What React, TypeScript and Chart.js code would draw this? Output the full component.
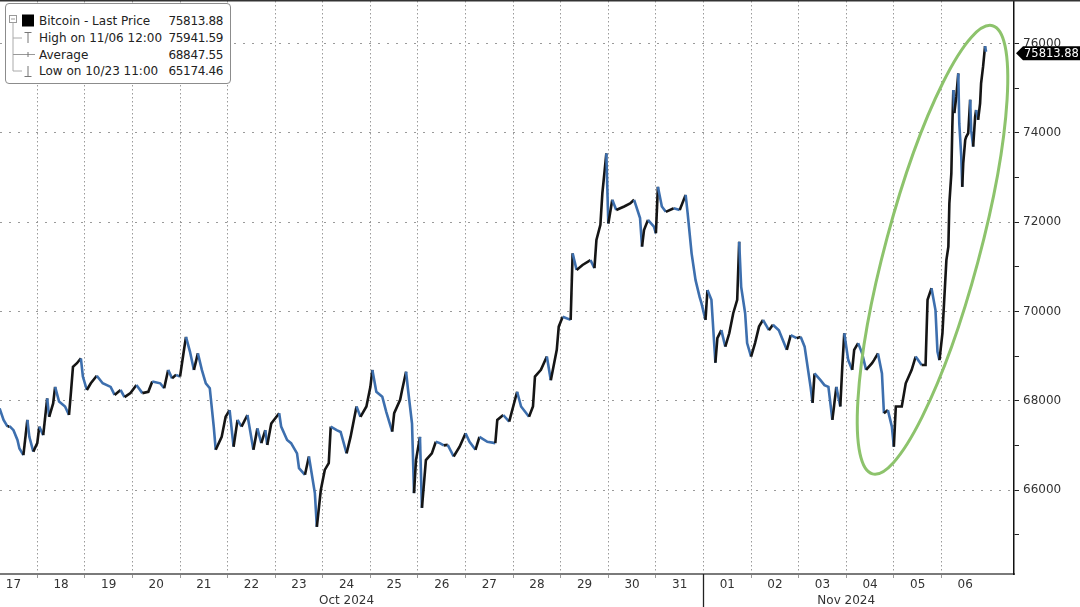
import React, { useEffect, useRef } from 'react';
import { Chart, registerables } from 'chart.js';

Chart.register(...registerables);

// Hours since 2024-10-17 00:00 (hourly bars sampled)
const hours: number[] = [
  5, 7, 9, 10, 12, 14, 15, 17, 19, 20,
  22, 24, 25, 27, 29, 30, 32, 33, 35, 38,
  40, 41, 42, 44, 46, 47, 49, 51, 54, 57,
  61, 63, 66, 68, 71, 74, 77, 80, 82, 86,
  88, 90, 92, 94, 96, 98, 99, 101, 103, 105,
  107, 109, 111, 113, 114, 117, 119, 121, 123, 125,
  127, 130, 131, 133, 135, 137, 139, 140, 142, 146,
  147, 150, 152, 155, 156, 159, 161, 164, 165, 167,
  169, 171, 172, 175, 177, 180, 182, 185, 187, 190,
  192, 193, 195, 198, 200, 203, 204, 207, 208, 210,
  211, 213, 214, 215, 217, 218, 220, 223, 225, 227,
  229, 231, 234, 237, 240, 242, 245, 247, 251, 255,
  256, 259, 262, 266, 268, 272, 274, 275, 278, 281,
  283, 286, 287, 289, 293, 294, 296, 299, 303, 305,
  306, 308, 309, 310, 311, 312, 314, 316, 320, 323,
  325, 328, 329, 330, 332, 335, 336, 337, 339, 341,
  345, 348, 351, 352, 354, 356, 358, 359, 361, 362,
  364, 366, 367, 369, 371, 373, 375, 377, 378, 379,
  381, 382, 384, 386, 388, 390, 393, 395, 398, 402,
  404, 407, 409, 411, 414, 415, 416, 419, 421, 423,
  425, 427, 429, 430, 431, 433, 435, 436, 438, 440,
  442, 445, 446, 448, 450, 451, 453, 455, 456, 457,
  460, 462, 465, 467, 470, 472, 473, 475, 477, 478,
  479, 480.5, 481.5, 482.5, 483.5, 484, 485, 485.5, 486, 486.5,
  487.5, 488.5, 489, 490, 490.5, 491, 492, 492.5, 493.5, 494.5,
  495, 496, 497, 497.5, 498.5, 499.5, 500, 501, 502, 502.5,
];

const prices: number[] = [
  67830, 67570, 67420, 67430, 67340, 67120, 66930, 66780, 67570, 67190,
  66860, 67050, 67420, 67230, 68050, 67640, 67940, 68310, 67980, 67870,
  67680, 68200, 68760, 68840, 68950, 68540, 68240, 68390, 68560, 68390,
  68310, 68130, 68240, 68080, 68170, 68350, 68170, 68200, 68430, 68390,
  68280, 68690, 68500, 68580, 68540, 69140, 69430, 69100, 68690, 69060,
  68690, 68390, 68280, 67420, 66900, 67190, 67640, 67790, 66970, 67570,
  67420, 67680, 67420, 66900, 67380, 67050, 67340, 67010, 67490, 67720,
  67420, 67120, 67050, 66820, 66490, 66340, 66750, 65930, 65174, 66000,
  66450, 66600, 67420, 67340, 67300, 66820, 67190, 67870, 67640, 67870,
  68310, 68690, 68200, 68090, 67750, 67310, 67720, 68020, 68240, 68650,
  68240, 67490, 65930, 66670, 67190, 65600, 66670, 66820, 67080, 67050,
  67000, 67010, 66750, 66970, 67270, 67080, 66900, 67190, 67080, 67050,
  67570, 67680, 67530, 68200, 67870, 67640, 67870, 68540, 68690, 68990,
  68460, 69140, 69660, 69880, 69810, 71300, 70930, 71040, 71150, 70970,
  71600, 71940, 72650, 73090, 73540, 71970, 72500, 72270, 72350, 72420,
  72500, 72090, 71450, 71820, 72050, 71900, 71750, 72790, 72350, 72230,
  72310, 72270, 72610, 72200, 71300, 70700, 70330, 70180, 69810, 70480,
  70260, 68850, 69400, 69580, 69210, 69510, 69960, 70260, 71560, 70550,
  69960, 69290, 68990, 69290, 69660, 69810, 69580, 69700, 69580, 69140,
  69470, 69400, 69430, 69210, 68310, 67950, 68610, 68460, 68350, 68310,
  67570, 68310, 67870, 68760, 69510, 68910, 68690, 69140, 69290, 69060,
  68690, 68840, 68910, 69060, 68610, 67720, 67790, 67420, 66970, 67870,
  67870, 68390, 68690, 68990, 68800, 68800, 70260, 70520, 70030, 69100,
  68910, 69510, 70330, 71150, 71450, 72420, 73090, 74140, 74960, 74440,
  74810, 75330, 74210, 73470, 72790, 73320, 73840, 73910, 73990, 74740,
  74060, 73690, 74360, 74510, 74290, 74660, 75110, 75480, 75942, 75813.88,
];

const dayLabels: string[] = [
  '17', '18', '19', '20', '21', '22', '23', '24', '25', '26', '27', '28', '29', '30', '31',
  '01', '02', '03', '04', '05', '06',
];
const dayCenterHours: number[] = dayLabels.map((_, i) => 12 + 24 * i);
const monthLabels: string[] = ['Oct 2024', 'Nov 2024'];
const monthLabelHours: number[] = [180, 432];
const monthBoundaryHour = 360;

const yTickValues: number[] = [65000, 66000, 67000, 68000, 69000, 70000, 71000, 72000, 73000, 74000, 75000, 76000];

const legendLabels: string[] = ['Bitcoin - Last Price', 'High on 11/06 12:00', 'Average', 'Low on 10/23 11:00'];
const legendValues: string[] = ['75813.88', '75941.59', '68847.55', '65174.46'];
const lastPrice = 75813.88;

const highlightCenterHour = 475.5;
const highlightCenterPrice = 71380;

const X_MIN = 5.2;
const X_MAX = 516.6;
const Y_MIN = 64119;
const Y_MAX = 76952;

const FONT = '"DejaVu Sans", Verdana, sans-serif';
const UP = '#151515';
const DOWN = '#3d6fae';

export default function App() {
  const canvasRef = useRef<HTMLCanvasElement>(null);

  useEffect(() => {
    document.body.style.margin = '0';
    const canvas = canvasRef.current;
    if (!canvas) return;
    const points = hours.map((h, i) => ({ x: h, y: prices[i] }));

    const overlay = {
      id: 'overlay',
      afterDatasetsDraw(chart: any) {
        const { ctx, scales } = chart;
        const xs = scales.x;
        const ys = scales.y;
        ctx.save();
        const cx = xs.getPixelForValue(highlightCenterHour);
        const cy = ys.getPixelForValue(highlightCenterPrice);
        ctx.beginPath();
        ctx.ellipse(cx, cy, 232, 47, (-75 * Math.PI) / 180, 0, Math.PI * 2);
        ctx.strokeStyle = '#8dc36c';
        ctx.lineWidth = 3;
        ctx.stroke();
        ctx.restore();
      },
      afterDraw(chart: any) {
        const { ctx, scales, chartArea, width, height } = chart;
        const xs = scales.x;
        const ys = scales.y;
        ctx.save();
        // top frame line
        ctx.fillStyle = '#333';
        ctx.fillRect(0, 0, width, 1.5);
        // month boundary
        const bx = Math.round(xs.getPixelForValue(monthBoundaryHour)) + 0.5;
        ctx.strokeStyle = '#222';
        ctx.lineWidth = 1.3;
        ctx.beginPath();
        ctx.moveTo(bx, chartArea.bottom);
        ctx.lineTo(bx, height);
        ctx.stroke();
        // month labels
        ctx.fillStyle = '#333';
        ctx.font = `12px ${FONT}`;
        ctx.textAlign = 'center';
        ctx.textBaseline = 'middle';
        monthLabels.forEach((lab, i) => {
          ctx.fillText(lab, xs.getPixelForValue(monthLabelHours[i]), 600.5);
        });
        // last price tag
        const py = ys.getPixelForValue(lastPrice) + 1.5;
        const tip = chartArea.right + 2;
        ctx.fillStyle = '#000';
        ctx.beginPath();
        ctx.moveTo(tip, py);
        ctx.lineTo(tip + 7, py - 7);
        ctx.lineTo(width, py - 7);
        ctx.lineTo(width, py + 7);
        ctx.lineTo(tip + 7, py + 7);
        ctx.closePath();
        ctx.fill();
        ctx.fillStyle = '#fff';
        ctx.font = `11.5px ${FONT}`;
        ctx.textAlign = 'left';
        ctx.fillText(lastPrice.toFixed(2), tip + 8, py + 0.5);
        ctx.restore();
      },
    };

    const chart = new Chart(canvas, {
      type: 'line',
      data: {
        datasets: [
          {
            data: points,
            borderWidth: 2.6,
            borderColor: UP,
            pointRadius: 0,
            tension: 0,
            segment: {
              borderColor: (c: any) => (c.p1.parsed.y >= c.p0.parsed.y ? UP : DOWN),
            },
          },
        ],
      },
      options: {
        responsive: false,
        animation: false,
        layout: { padding: { top: 1, left: 0, right: 0, bottom: 0 } },
        plugins: { legend: { display: false }, tooltip: { enabled: false } },
        scales: {
          x: {
            type: 'linear',
            min: X_MIN,
            max: X_MAX,
            position: 'bottom',
            afterBuildTicks: (s: any) => {
              s.ticks = dayCenterHours.map((v) => ({ value: v }));
            },
            afterFit: (s: any) => {
              s.height = 33;
              s.paddingLeft = 0;
              s.paddingRight = 0;
            },
            ticks: {
              autoSkip: false,
              maxRotation: 0,
              padding: 0,
              color: '#333',
              font: { family: FONT, size: 12 },
              callback: (_v: any, i: number) => dayLabels[i],
            },
            grid: {
              offset: true,
              drawTicks: true,
              tickLength: 4,
              lineWidth: 1,
              color: (c: any) => (c.type === 'tick' ? '#9a9a9a' : 'rgba(0,0,0,0)'),
              tickColor: (c: any) => (c.type === 'tick' ? '#9a9a9a' : 'rgba(0,0,0,0)'),
            },
            border: { display: true, color: '#7a7a7a', width: 2, dash: [1.5, 2.5] },
          },
          y: {
            type: 'linear',
            position: 'right',
            min: Y_MIN,
            max: Y_MAX,
            afterBuildTicks: (s: any) => {
              s.ticks = yTickValues.map((v) => ({ value: v }));
            },
            afterFit: (s: any) => {
              s.width = 66;
              s.paddingTop = 0;
              s.paddingBottom = 0;
            },
            ticks: {
              padding: 4,
              color: '#333',
              font: { family: FONT, size: 12 },
              callback: (v: any) => (Number(v) % 2000 === 0 ? String(v) : ''),
            },
            grid: {
              drawTicks: true,
              tickLength: 5,
              lineWidth: 1,
              color: (c: any) =>
                c.tick && c.tick.value % 2000 === 0 ? '#9a9a9a' : 'rgba(0,0,0,0)',
              tickColor: '#222',
            },
            border: { display: true, color: '#111', width: 1.5, dash: [2, 7] },
          },
        },
      },
      plugins: [overlay],
    } as any);

    return () => chart.destroy();
  }, []);

  const rowTops = [9, 26, 43, 59];

  return (
    <div style={{ position: 'relative', width: 1080, height: 607, overflow: 'hidden', background: '#fff' }}>
      <canvas ref={canvasRef} width={1080} height={607} style={{ display: 'block', width: 1080, height: 607 }} />
      <div
        style={{
          position: 'absolute',
          left: 5,
          top: 3,
          width: 226,
          height: 81,
          boxSizing: 'border-box',
          border: '1px solid #8c8c8c',
          borderRadius: 4,
          background: '#fff',
          fontFamily: FONT,
          fontSize: 12,
          color: '#222',
        }}
      >
        {legendLabels.map((lab, i) => (
          <div
            key={lab}
            style={{
              position: 'absolute',
              left: 33,
              right: 7,
              top: rowTops[i],
              height: 16,
              lineHeight: '16px',
              display: 'flex',
              justifyContent: 'space-between',
              whiteSpace: 'nowrap',
            }}
          >
            <span>{lab}</span>
            <span style={{ letterSpacing: '-0.35px' }}>{legendValues[i]}</span>
          </div>
        ))}
      </div>
      <svg
        width={40}
        height={84}
        style={{ position: 'absolute', left: 0, top: 0, pointerEvents: 'none' }}
      >
        <rect x={9.5} y={15.5} width={7} height={7} fill="#fff" stroke="#999" strokeWidth={1} />
        <line x1={11} y1={19} x2={15} y2={19} stroke="#999" strokeWidth={1} />
        <rect x={22} y={14.5} width={12} height={12} fill="#000" />
        <line x1={13} y1={22.5} x2={13} y2={71} stroke="#aaa" strokeWidth={1} />
        <line x1={13} y1={38} x2={22} y2={38} stroke="#aaa" strokeWidth={1} />
        <line x1={24.5} y1={32.5} x2={31.5} y2={32.5} stroke="#777" strokeWidth={1} />
        <line x1={28} y1={32.5} x2={28} y2={43} stroke="#777" strokeWidth={1} />
        <line x1={13} y1={54.5} x2={35} y2={54.5} stroke="#999" strokeWidth={1} />
        <line x1={28} y1={52} x2={28} y2={57} stroke="#777" strokeWidth={1} />
        <line x1={13} y1={71} x2={22} y2={71} stroke="#aaa" strokeWidth={1} />
        <line x1={28} y1={66} x2={28} y2={76.5} stroke="#777" strokeWidth={1} />
        <line x1={24.5} y1={76.5} x2={31.5} y2={76.5} stroke="#777" strokeWidth={1} />
      </svg>
    </div>
  );
}
